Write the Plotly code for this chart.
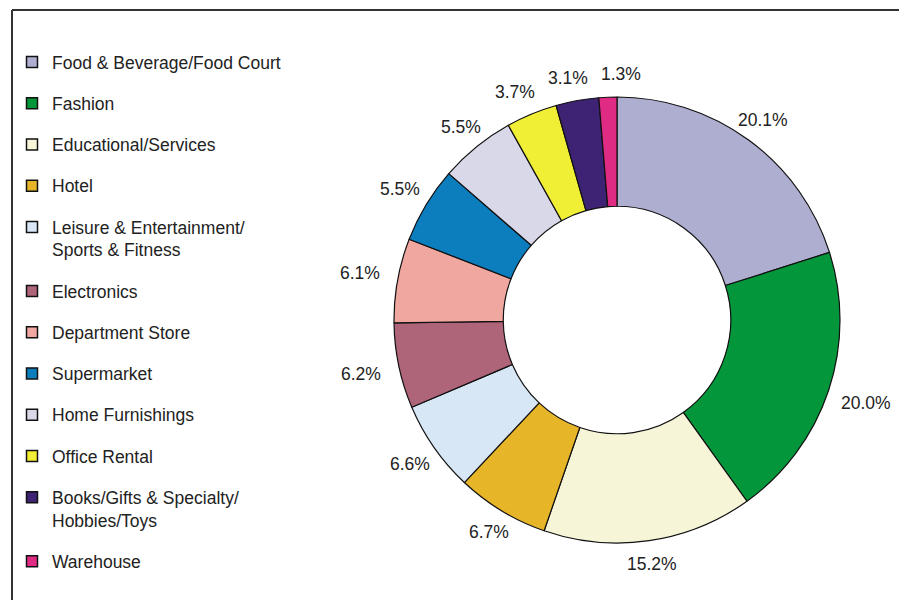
import math
import plotly.graph_objects as go

# Retail space mix by trade category (% of total)
categories = [
    "Food & Beverage/Food Court",
    "Fashion",
    "Educational/Services",
    "Hotel",
    "Leisure & Entertainment/<br>Sports & Fitness",
    "Electronics",
    "Department Store",
    "Supermarket",
    "Home Furnishings",
    "Office Rental",
    "Books/Gifts & Specialty/<br>Hobbies/Toys",
    "Warehouse",
]
shares = [20.1, 20.0, 15.2, 6.7, 6.6, 6.2, 6.1, 5.5, 5.5, 3.7, 3.1, 1.3]
colors = [
    "#ADAED0", "#03963A", "#F7F5D8", "#E6B528", "#D8E7F6", "#AE6479",
    "#F0A7A0", "#0C7DBD", "#D9D8E9", "#F0EE35", "#3E2273", "#E02B85",
]

W, H = 899, 600
FONT = "Liberation Sans, Arial, sans-serif"
TEXT_COLOR = "#222222"
FONT_SIZE = 17.5

# donut geometry in pixels
cx, cy, r = 617, 320, 223

fig = go.Figure()

fig.add_trace(go.Pie(
    labels=categories,
    values=shares,
    sort=False,
    direction="clockwise",
    rotation=0,
    hole=0.51,
    marker=dict(colors=colors, line=dict(color="#111111", width=1.2)),
    textinfo="none",
    hoverinfo="label+value",
    showlegend=False,
    domain=dict(x=[(cx - r) / W, (cx + r) / W],
                y=[1 - (cy + r) / H, 1 - (cy - r) / H]),
))

# legend entries, one group each so the spacing can be set
for name, col in zip(categories, colors):
    fig.add_trace(go.Scatter(
        x=[None], y=[None], mode="markers", name=name, legendgroup=name,
        marker=dict(symbol="square", size=11, color=col,
                    line=dict(color="#111111", width=1.5)),
        hoverinfo="skip",
    ))

# percentage labels just outside each slice, placed at the slice mid-angle
total = sum(shares)
positions = []
cum = 0.0
gap, hw, hh = 15, 23, 8
for v in shares:
    theta = 2 * math.pi * (cum + v / 2) / total
    s, c = math.sin(theta), math.cos(theta)
    ext = min(hw / abs(s) if abs(s) > 1e-6 else 1e9,
              hh / abs(c) if abs(c) > 1e-6 else 1e9)
    R = r + gap + ext
    positions.append([cx + R * s, cy - R * c])
    cum += v

# spread neighbouring labels apart horizontally where they would collide
min_dx, min_dy = 53, 18
n = len(positions)
for _ in range(20):
    moved = False
    for i in range(n):
        j = (i + 1) % n
        a, b = positions[i], positions[j]
        dx = b[0] - a[0]
        if abs(b[1] - a[1]) < min_dy and abs(dx) < min_dx:
            push = (min_dx - abs(dx)) / 2
            sign = 1 if dx >= 0 else -1
            a[0] -= sign * push
            b[0] += sign * push
            moved = True
    if not moved:
        break

annotations = [
    dict(x=px / W, y=1 - py / H, xref="paper", yref="paper",
         text=f"{v:.1f}%", showarrow=False,
         font=dict(family=FONT, size=FONT_SIZE, color=TEXT_COLOR),
         xanchor="center", yanchor="middle")
    for v, (px, py) in zip(shares, positions)
]

# frame lines along the top and left
shapes = [
    dict(type="line", xref="paper", yref="paper", x0=12 / W, x1=1.0,
         y0=1 - 10 / H, y1=1 - 10 / H, line=dict(color="#333333", width=2)),
    dict(type="line", xref="paper", yref="paper", x0=12 / W, x1=12 / W,
         y0=1 - 10 / H, y1=0, line=dict(color="#333333", width=2)),
]

fig.update_layout(
    width=W, height=H,
    margin=dict(l=0, r=0, t=0, b=0),
    paper_bgcolor="white", plot_bgcolor="white",
    xaxis=dict(visible=False), yaxis=dict(visible=False),
    showlegend=True,
    legend=dict(
        x=12 / W, y=1 - 44 / H, xanchor="left", yanchor="top",
        traceorder="grouped", tracegroupgap=15.5, valign="top",
        font=dict(family=FONT, size=FONT_SIZE, color=TEXT_COLOR),
        bgcolor="rgba(0,0,0,0)",
    ),
    annotations=annotations,
    shapes=shapes,
)

fig.write_html("out.html")
